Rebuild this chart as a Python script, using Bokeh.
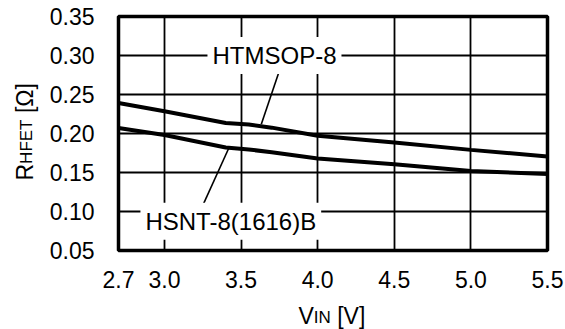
import math
from bokeh.plotting import figure
from bokeh.layouts import column, row
from bokeh.models import Range1d, FixedTicker, PrintfTickFormatter, Label
from bokeh.core.properties import value
from bokeh.embed import file_html
from bokeh.resources import INLINE

# ---- data ----
vin = [2.7, 3.0, 3.4, 3.55, 3.7, 4.0, 4.5, 5.0, 5.5]
r_htmsop = [0.239, 0.2285, 0.2135, 0.2115, 0.2075, 0.197, 0.1885, 0.179, 0.1705]
r_hsnt = [0.207, 0.198, 0.182, 0.1795, 0.176, 0.168, 0.1605, 0.152, 0.148]

x_ticks = [2.7, 3.0, 3.5, 4.0, 4.5, 5.0, 5.5]
y_ticks = [0.05, 0.10, 0.15, 0.20, 0.25, 0.30, 0.35]

series_names = ["HTMSOP-8", "HSNT-8(1616)B"]
name_x = [3.718, 3.433]
name_y = [0.300, 0.0875]
leader_x0 = [3.750, 3.254]
leader_y0 = [0.2804, 0.1095]
leader_x1 = [3.632, 3.421]
leader_y1 = [0.212, 0.1817]

y_title_parts = ["R", "HFET", "[Ω]"]
x_title_parts = ["V", "IN", "[V]"]

FONT = "Liberation Sans"
W, H = 565, 329
LEFT_W = 40
MAIN_H = 298
FRAME_TOP, FRAME_BOTTOM = 16, 250
MID_SHIFT = 0.3465  # baseline lies this many em below a "middle" anchor

# ---- main chart ----
p = figure(width=W - LEFT_W, height=MAIN_H, output_backend="svg", toolbar_location=None,
           x_range=Range1d(2.7, 5.5), y_range=Range1d(0.05, 0.35),
           min_border_left=78, min_border_right=18, min_border_top=FRAME_TOP,
           min_border_bottom=MAIN_H - FRAME_BOTTOM)
p.background_fill_color = "white"
p.border_fill_color = "white"
p.outline_line_color = "black"
p.outline_line_width = 3.5

for ax in (p.xaxis, p.yaxis):
    ax.axis_line_color = None
    ax.major_tick_line_color = None
    ax.minor_tick_line_color = None
    ax.major_tick_out = 0
    ax.major_tick_in = 0
    ax.major_label_text_font = FONT
    ax.major_label_text_font_size = "23px"
    ax.major_label_text_color = "black"

p.xaxis.ticker = FixedTicker(ticks=x_ticks)
p.yaxis.ticker = FixedTicker(ticks=y_ticks)
p.xaxis.formatter = PrintfTickFormatter(format="%.1f")
p.yaxis.formatter = PrintfTickFormatter(format="%.2f")
p.xaxis.major_label_standoff = 20
p.yaxis.major_label_standoff = 24

p.xgrid.ticker = FixedTicker(ticks=x_ticks)
p.ygrid.ticker = FixedTicker(ticks=y_ticks)
for g in (p.xgrid, p.ygrid):
    g.grid_line_color = "black"
    g.grid_line_width = 1.8

p.line(vin, r_htmsop, line_color="black", line_width=4)
p.line(vin, r_hsnt, line_color="black", line_width=4)

p.segment(x0=leader_x0, y0=leader_y0, x1=leader_x1, y1=leader_y1,
          line_color="black", line_width=1.6)

for name, lx, ly in zip(series_names, name_x, name_y):
    p.add_layout(Label(x=lx, y=ly, text=name, text_font=FONT,
                       text_font_size="24px", text_color="black",
                       text_align="center", text_baseline="middle",
                       background_fill_color="white", padding=5))


def blank(width, height, y_span):
    f = figure(width=width, height=height, output_backend="svg", toolbar_location=None,
               x_range=Range1d(0, width), y_range=Range1d(0, y_span),
               x_axis_location=None, y_axis_location=None,
               min_border=0, min_border_left=0, min_border_right=0,
               min_border_top=0, min_border_bottom=0)
    f.outline_line_color = None
    f.xgrid.visible = False
    f.ygrid.visible = False
    f.background_fill_color = "white"
    f.border_fill_color = "white"
    return f


# ---- y-axis title (rotated): R + small HFET + [Ω] ----
# this figure's frame is aligned with the main frame (page y 16..250)
yf = blank(LEFT_W, MAIN_H, FRAME_BOTTOM - FRAME_TOP)
y_start = FRAME_BOTTOM - 180      # page y 180 -> text start
y_base_x = 32                     # page x of the rotated baseline
y_sizes = [23, 17, 23]
y_offs = [0, 16.6, 67.4]
for t, s, o in zip(y_title_parts, y_sizes, y_offs):
    yf.text(x=[y_base_x - MID_SHIFT * s], y=[y_start + o], text=[t], angle=math.pi / 2,
            text_font=value(FONT), text_font_size=value(f"{s}px"), text_color="black",
            text_align="left", text_baseline="middle")

# ---- x-axis title: V + small IN + [V] ----
XH = H - MAIN_H
xf = blank(W, XH, XH)
x_start = 298
x_base_y = 323                    # page y of the baseline
x_sizes = [23, 17, 23]
x_offs = [0, 15.3, 38.7]
for t, s, o in zip(x_title_parts, x_sizes, x_offs):
    xf.text(x=[x_start + o], y=[H - (x_base_y - MID_SHIFT * s)], text=[t],
            text_font=value(FONT), text_font_size=value(f"{s}px"), text_color="black",
            text_align="left", text_baseline="middle")

layout = column(row(yf, p), xf)

open("out.html", "w").write(file_html(layout, INLINE))
